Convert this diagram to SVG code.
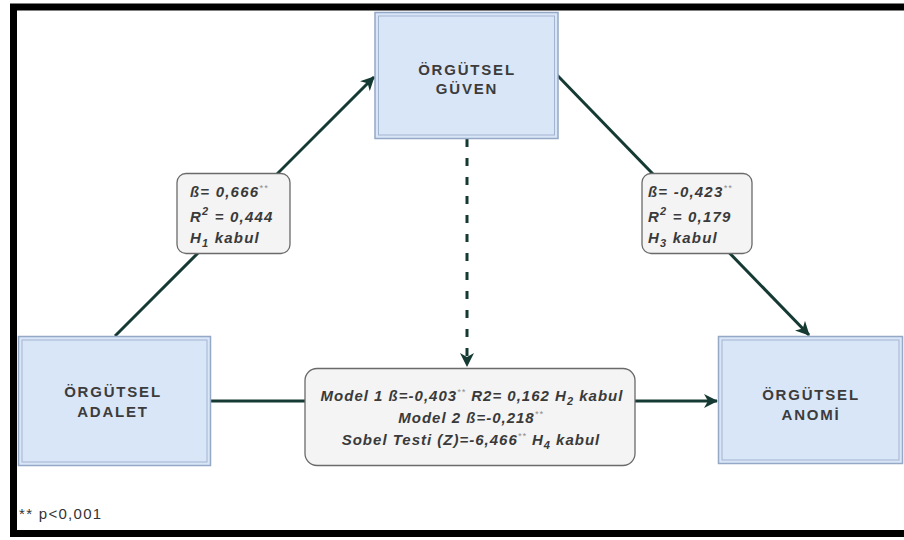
<svg xmlns="http://www.w3.org/2000/svg" width="904" height="540" viewBox="0 0 904 540">
<defs>
<style>
.node rect.o{fill:#d9e6f8;stroke:#95a8c6;stroke-width:1.5}
.node rect.i{fill:none;stroke:#a3b4cf;stroke-width:1}
.nt{font-family:"Liberation Sans",Arial,sans-serif;font-size:15px;font-weight:bold;fill:#3c3c3c;letter-spacing:1.8px;text-anchor:middle}
.lbl rect{fill:#f4f4f4;stroke:#6a6a6a;stroke-width:1.3}
.lt{font-family:"Liberation Sans",Arial,sans-serif;font-size:15px;font-weight:bold;font-style:italic;fill:#3a3a3a;letter-spacing:1.2px}
.mt{font-family:"Liberation Sans",Arial,sans-serif;font-size:15px;font-weight:bold;font-style:italic;fill:#3a3a3a;letter-spacing:1px;text-anchor:middle}
.st{font-size:9px;fill:#8a8a8a;font-weight:normal}
.sb{font-size:11px}
.conn{stroke:#153a33;stroke-width:3;fill:none}
.fn{font-family:"Liberation Sans",Arial,sans-serif;font-size:15px;fill:#333;letter-spacing:1.3px}
</style>
<marker id="ah" markerWidth="14" markerHeight="14" refX="13" refY="7" orient="auto" markerUnits="userSpaceOnUse">
<path d="M0,0 L14,7 L0,14 L4,7 z" fill="#153a33"/>
</marker>
</defs>
<rect x="0" y="0" width="904" height="540" fill="#fff"/>
<rect x="13.5" y="7" width="910" height="526.5" fill="none" stroke="#000" stroke-width="7"/>

<g id="connectors">
<line class="conn" x1="115" y1="336" x2="374" y2="77" marker-end="url(#ah)"/>
<line class="conn" x1="557" y1="75" x2="809" y2="335" marker-end="url(#ah)"/>
<line class="conn" x1="210" y1="401" x2="717" y2="401" marker-end="url(#ah)"/>
<line class="conn" x1="467" y1="139" x2="467" y2="366" stroke-dasharray="8 11" marker-end="url(#ah)"/>
</g>

<g id="guven" class="node">
<rect class="o" x="375" y="12.5" width="183" height="126"/>
<rect class="i" x="378.5" y="16" width="176" height="119"/>
<text class="nt" x="467" y="75">ÖRGÜTSEL</text>
<text class="nt" x="467" y="94">GÜVEN</text>
</g>

<g id="adalet" class="node">
<rect class="o" x="18.5" y="336.5" width="192" height="129"/>
<rect class="i" x="22" y="340" width="185" height="122"/>
<text class="nt" x="113" y="397">ÖRGÜTSEL</text>
<text class="nt" x="113" y="417">ADALET</text>
</g>

<g id="anomi" class="node">
<rect class="o" x="718.5" y="336.5" width="184" height="127"/>
<rect class="i" x="722" y="340" width="177" height="120"/>
<text class="nt" x="811" y="400">ÖRGÜTSEL</text>
<text class="nt" x="811" y="420">ANOMİ</text>
</g>

<g id="label-h1" class="lbl">
<rect x="177" y="173.5" width="113" height="80" rx="9"/>
<text class="lt" x="190" y="197">ß= 0,666<tspan class="st" dy="-6">**</tspan></text>
<text class="lt" x="190" y="222">R<tspan class="sb" dy="-7">2</tspan><tspan dy="7"> = 0,444</tspan></text>
<text class="lt" x="190" y="243">H<tspan class="sb" dy="4">1</tspan><tspan dy="-4"> kabul</tspan></text>
</g>

<g id="label-h3" class="lbl">
<rect x="642" y="173.5" width="110" height="80" rx="9"/>
<text class="lt" x="648" y="197">ß= -0,423<tspan class="st" dy="-6">**</tspan></text>
<text class="lt" x="648" y="222">R<tspan class="sb" dy="-7">2</tspan><tspan dy="7"> = 0,179</tspan></text>
<text class="lt" x="648" y="243">H<tspan class="sb" dy="4">3</tspan><tspan dy="-4"> kabul</tspan></text>
</g>

<g id="label-mediation" class="lbl">
<rect x="305" y="368.5" width="330" height="97" rx="12"/>
<text class="mt" x="472" y="401">Model 1 ß=-0,403<tspan class="st" dy="-6">**</tspan><tspan dy="6"> R2= 0,162 H</tspan><tspan class="sb" dy="4">2</tspan><tspan dy="-4"> kabul</tspan></text>
<text class="mt" x="471" y="423">Model 2 ß=-0,218<tspan class="st" dy="-6">**</tspan></text>
<text class="mt" x="471" y="445">Sobel Testi (Z)=-6,466<tspan class="st" dy="-6">**</tspan><tspan dy="6"> H</tspan><tspan class="sb" dy="4">4</tspan><tspan dy="-4"> kabul</tspan></text>
</g>

<text class="fn" x="19" y="519">** p&lt;0,001</text>
</svg>
